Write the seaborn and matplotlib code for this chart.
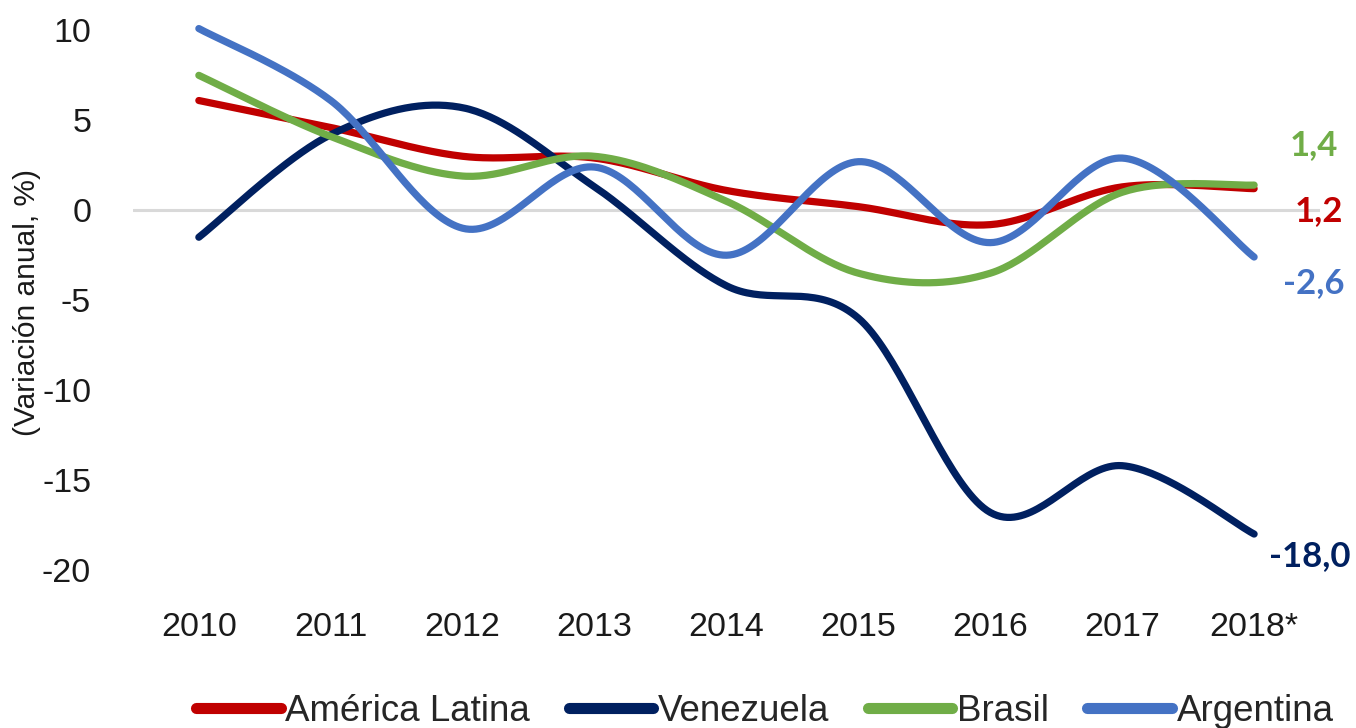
import numpy as np
import pandas as pd
import matplotlib
matplotlib.use("Agg")
import matplotlib.pyplot as plt
import seaborn as sns

# datos (variacion anual, %)
anios = ["2010", "2011", "2012", "2013", "2014", "2015", "2016", "2017", "2018*"]
america_latina = [6.1, 4.6, 3.0, 2.9, 1.1, 0.2, -0.8, 1.3, 1.2]
venezuela = [-1.5, 4.2, 5.7, 1.3, -4.2, -6.0, -16.8, -14.2, -18.0]
brasil = [7.5, 4.1, 1.9, 3.0, 0.5, -3.5, -3.5, 1.0, 1.4]
argentina = [10.1, 6.1, -1.0, 2.4, -2.5, 2.7, -1.8, 2.9, -2.6]

series = ["América Latina", "Venezuela", "Brasil", "Argentina"]
valores = [america_latina, venezuela, brasil, argentina]
colores = ["#C00000", "#002060", "#70AD47", "#4472C4"]


def suavizar(y, n=40):
    # curva suavizada tipo Excel (Bezier / Catmull-Rom) solo para dibujar
    y = np.asarray(y, dtype=float)
    x = np.arange(len(y), dtype=float)
    xs, ys = [], []
    for i in range(len(y) - 1):
        i0, i3 = max(i - 1, 0), min(i + 2, len(y) - 1)
        p0 = np.array([x[i], y[i]])
        p3 = np.array([x[i + 1], y[i + 1]])
        c1 = p0 + (np.array([x[i + 1], y[i + 1]]) - np.array([x[i0], y[i0]])) / 6
        c2 = p3 - (np.array([x[i3], y[i3]]) - np.array([x[i], y[i]])) / 6
        t = np.linspace(0, 1, n)[:, None]
        pts = (1 - t) ** 3 * p0 + 3 * (1 - t) ** 2 * t * c1 + 3 * (1 - t) * t ** 2 * c2 + t ** 3 * p3
        xs.extend(pts[:, 0])
        ys.extend(pts[:, 1])
    return xs, ys


filas = []
for nombre, v in zip(series, valores):
    xs, ys = suavizar(v)
    for k, (a, b) in enumerate(zip(xs, ys)):
        filas.append({"serie": nombre, "orden": k, "x": a, "y": b})
df = pd.DataFrame(filas)

sns.set_style("white")
plt.rcParams["font.family"] = ["Liberation Sans", "DejaVu Sans"]
plt.rcParams["axes.unicode_minus"] = False

fig = plt.figure(figsize=(13.56, 7.28), dpi=100)
ax = fig.add_axes([0.098, 0.217, 0.8755, 0.7413])

ax.axhline(0, color="#D9D9D9", linewidth=2.2, zorder=0)

sns.lineplot(data=df, x="x", y="y", hue="serie", hue_order=series,
             palette=colores, sort=False, estimator=None, linewidth=5.2, ax=ax)
for ln in ax.get_lines()[1:]:
    ln.set_solid_capstyle("round")
    ln.set_clip_on(False)

ax.set_xlim(-0.5, 8.5)
ax.set_ylim(-20, 10)
ax.set_xticks(range(len(anios)))
ax.set_xticklabels(anios)
ax.set_yticks([10, 5, 0, -5, -10, -15, -20])
ax.tick_params(axis="both", length=0, labelsize=24.5, colors="#1a1a1a")
ax.tick_params(axis="y", pad=30)
ax.tick_params(axis="x", pad=30)
ax.set_xlabel("")
ax.set_ylabel("")
sns.despine(ax=ax, left=True, bottom=True)

fig.text(0.02, 1 - 302 / 728, "(Variación anual, %)", rotation=90,
         ha="center", va="center", fontsize=21.5, color="#1a1a1a")

# etiquetas de valor al final
pos_etiquetas = [(8.49, -0.05), (8.42, -19.2), (8.45, 3.6), (8.45, -4.05)]
for v, c, (px, py) in zip(valores, colores, pos_etiquetas):
    ax.text(px, py, f"{v[-1]:.1f}".replace(".", ","), color=c, fontsize=25,
            fontweight="bold", ha="center", va="center", family=["Lato", "DejaVu Sans"])

handles, labels = ax.get_legend_handles_labels()
for h in handles:
    h.set_linewidth(8)
    h.set_solid_capstyle("round")
ax.legend(handles, labels, loc="lower center", bbox_to_anchor=(0.564, -0.022),
          bbox_transform=fig.transFigure, ncol=4, frameon=False, fontsize=26.5,
          handlelength=2.3, handletextpad=0.12, columnspacing=1.05, borderaxespad=0.0)

fig.savefig("out.png", dpi=100)
